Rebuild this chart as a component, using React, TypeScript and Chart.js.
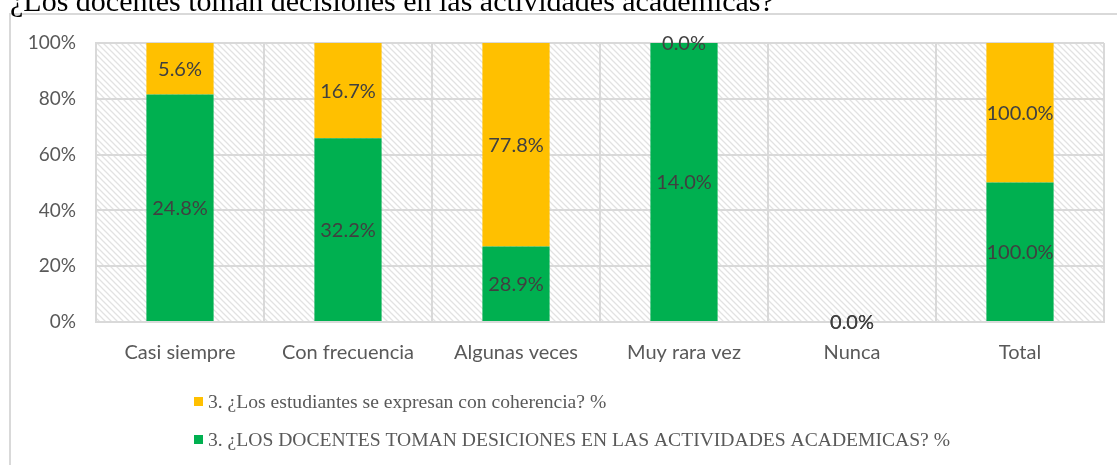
import React, { useEffect, useRef } from "react";
import { Chart, registerables } from "chart.js";

Chart.register(...registerables);

const titleText = "¿Los docentes toman decisiones en las actividades académicas?";
const categories = ["Casi siempre", "Con frecuencia", "Algunas veces", "Muy rara vez", "Nunca", "Total"];
const docentesValues = [24.8, 32.2, 28.9, 14.0, 0.0, 100.0];
const estudiantesValues = [5.6, 16.7, 77.8, 0.0, 0.0, 100.0];
const docentesLabel = "3. ¿LOS DOCENTES TOMAN DESICIONES EN LAS ACTIVIDADES ACADEMICAS? %";
const estudiantesLabel = "3. ¿Los estudiantes se expresan con coherencia? %";
const yTickStep = 20;

const GREEN = "#00B050";
const YELLOW = "#FFC000";
const GRID = "#d9d9d9";
const TEXT = "#595959";
const LABEL = "#404040";
const SANS = "Lato, 'Open Sans', sans-serif";
const SERIF = "'Liberation Serif', 'DejaVu Serif', serif";

function share(a: number[], b: number[], i: number, own: number[]) {
  const s = a[i] + b[i];
  return s === 0 ? 0 : (own[i] / s) * 100;
}

const greenShare = docentesValues.map((_, i) => share(docentesValues, estudiantesValues, i, docentesValues));
const yellowShare = estudiantesValues.map((_, i) => share(docentesValues, estudiantesValues, i, estudiantesValues));

function makePattern(ctx: CanvasRenderingContext2D) {
  const c = document.createElement("canvas");
  c.width = 6;
  c.height = 6;
  const g = c.getContext("2d")!;
  g.fillStyle = "#ffffff";
  g.fillRect(0, 0, 6, 6);
  g.strokeStyle = "#e2e2e2";
  g.lineWidth = 1.3;
  g.beginPath();
  g.moveTo(-1, -1);
  g.lineTo(7, 7);
  g.moveTo(-7, -1);
  g.lineTo(1, 7);
  g.moveTo(5, -1);
  g.lineTo(13, 7);
  g.stroke();
  return ctx.createPattern(c, "repeat");
}

export default function App() {
  const ref = useRef<HTMLCanvasElement>(null);

  useEffect(() => {
    const canvas = ref.current!;
    const rawValues = [docentesValues, estudiantesValues];

    const decor = {
      id: "decor",
      beforeDraw(chart: any) {
        const { ctx, chartArea } = chart;
        ctx.save();
        ctx.fillStyle = "#ffffff";
        ctx.fillRect(0, 0, chart.width, chart.height);
        // outer chart box
        ctx.strokeStyle = GRID;
        ctx.lineWidth = 2;
        ctx.beginPath();
        ctx.moveTo(10, 465);
        ctx.lineTo(10, 14);
        ctx.lineTo(1117, 14);
        ctx.stroke();
        // title (cut off at top)
        ctx.fillStyle = "#000000";
        ctx.font = `30px ${SERIF}`;
        ctx.textBaseline = "alphabetic";
        ctx.textAlign = "left";
        ctx.fillText(titleText, 10, 11);
        // hatch
        const p = makePattern(ctx);
        if (p) {
          ctx.fillStyle = p;
          ctx.fillRect(chartArea.left, chartArea.top, chartArea.right - chartArea.left, chartArea.bottom - chartArea.top);
        }
        ctx.restore();
      },
      afterDatasetsDraw(chart: any) {
        const { ctx } = chart;
        ctx.save();
        ctx.font = `20px ${SANS}`;
        ctx.fillStyle = LABEL;
        ctx.textAlign = "center";
        ctx.textBaseline = "middle";
        chart.data.datasets.forEach((_: any, di: number) => {
          const meta = chart.getDatasetMeta(di);
          meta.data.forEach((el: any, i: number) => {
            const y = (el.y + el.base) / 2;
            ctx.fillText(rawValues[di][i].toFixed(1) + "%", el.x, y + 1);
          });
        });
        ctx.restore();
      },
      afterDraw(chart: any) {
        const { ctx } = chart;
        ctx.save();
        const items = [
          { color: YELLOW, text: estudiantesLabel, y: 408 },
          { color: GREEN, text: docentesLabel, y: 446 },
        ];
        ctx.font = `19.6px ${SERIF}`;
        ctx.textAlign = "left";
        ctx.textBaseline = "alphabetic";
        items.forEach((it) => {
          ctx.fillStyle = it.color;
          ctx.fillRect(194, it.y - 11, 9, 9);
          ctx.fillStyle = TEXT;
          ctx.fillText(it.text, 208, it.y);
        });
        ctx.restore();
      },
    };

    const chart = new Chart(canvas, {
      type: "bar",
      data: {
        labels: categories,
        datasets: [
          {
            label: docentesLabel,
            data: greenShare,
            backgroundColor: GREEN,
            borderWidth: 0,
            categoryPercentage: 1,
            barPercentage: 0.4,
          },
          {
            label: estudiantesLabel,
            data: yellowShare,
            backgroundColor: YELLOW,
            borderWidth: 0,
            categoryPercentage: 1,
            barPercentage: 0.4,
          },
        ],
      },
      options: {
        responsive: false,
        animation: false,
        devicePixelRatio: 1,
        layout: { padding: { left: 0, top: 43, right: 13, bottom: 0 } },
        plugins: {
          legend: { display: false },
          title: { display: false },
          tooltip: { enabled: false },
        },
        scales: {
          x: {
            stacked: true,
            grid: { color: GRID, lineWidth: 2, drawTicks: false, offset: true },
            border: { color: GRID, width: 2 },
            ticks: { color: TEXT, font: { family: SANS, size: 20 }, padding: 19, maxRotation: 0 },
            afterFit(scale: any) {
              scale.height = 143;
            },
          },
          y: {
            stacked: true,
            min: 0,
            max: 100,
            grid: { color: GRID, lineWidth: 2, drawTicks: false },
            border: { color: GRID, width: 2 },
            ticks: {
              stepSize: yTickStep,
              color: TEXT,
              font: { family: SANS, size: 19 },
              padding: 20,
              callback: (v: any) => v + "%",
            },
            afterFit(scale: any) {
              scale.width = 96;
            },
          },
        },
      },
      plugins: [decor],
    });
    return () => chart.destroy();
  }, []);

  return (
    <div style={{ position: "absolute", left: 0, top: 0, width: 1117, height: 465, background: "#fff" }}>
      <canvas ref={ref} width={1117} height={465} style={{ display: "block", width: 1117, height: 465 }} />
    </div>
  );
}
